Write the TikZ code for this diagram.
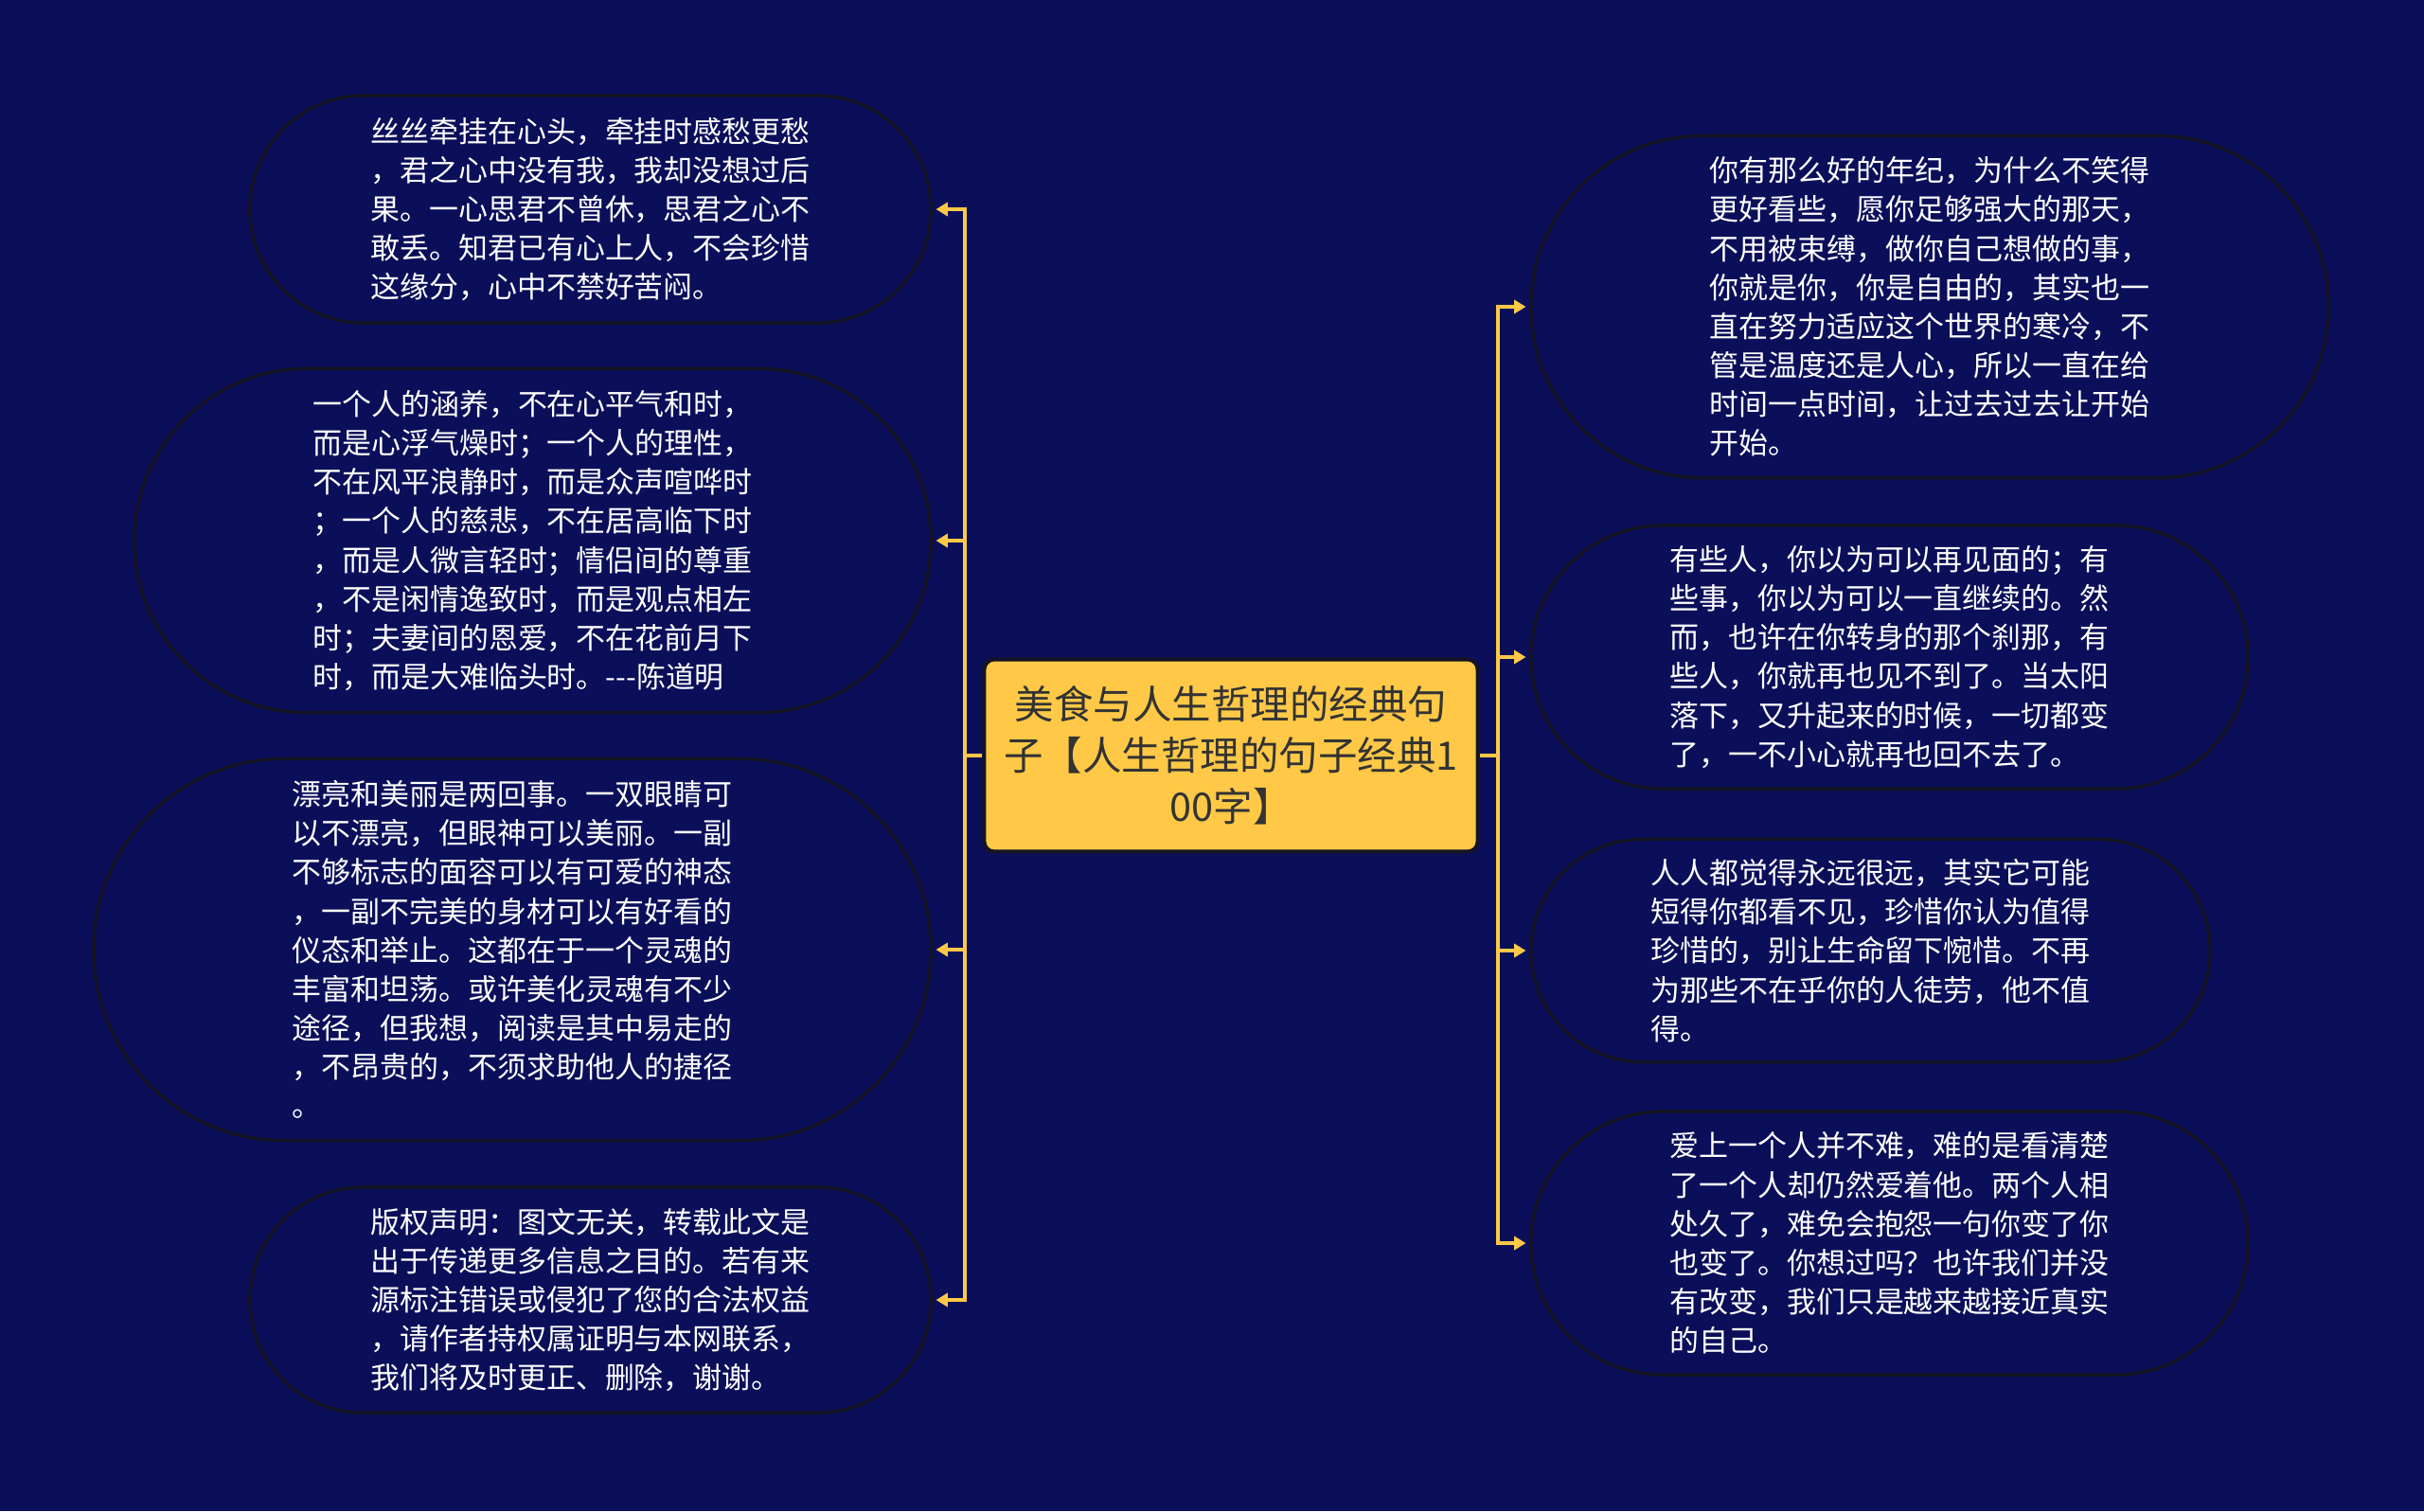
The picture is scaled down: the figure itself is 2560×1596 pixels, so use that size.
\documentclass[tikz,border=0pt]{standalone}
\usepackage{fontspec}
\setmainfont{Noto Sans CJK SC}
\usetikzlibrary{shapes.misc,arrows.meta}
\definecolor{navy}{RGB}{11,15,90}
\definecolor{gold}{RGB}{255,201,71}
\definecolor{rim}{RGB}{20,20,36}
\definecolor{ink}{RGB}{51,51,51}

\begin{document}
\begin{tikzpicture}[x=0.01cm, y=-0.01cm,
    leaf/.style={rounded rectangle, draw=rim, line width=1pt, fill=navy,
                 text=white, align=left, inner sep=0pt,
                 font=\fontsize{8.8}{11.7}\selectfont},
    topic/.style={rectangle, rounded corners=3pt, draw=rim, line width=1.2pt,
                  fill=gold, text=ink, align=center, text width=4.9cm,
                  minimum width=5.21cm, minimum height=2.03cm,
                  font=\fontsize{11.8}{15.4}\selectfont},
    link/.style={gold, line width=0.9pt, -{Triangle[length=3.5pt,width=4pt]},
                 shorten >=1pt}
]
\useasboundingbox (0,0) rectangle (2560,1596);
\fill[navy] (0,0) rectangle (2560,1596);

% centre
\node[topic] (root) at (1300,798) {美食与人生哲理的经典句\\子【人生哲理的句子经典1\\00字】};

% left side
\node[leaf, minimum width=7.19cm, minimum height=2.40cm, anchor=east] (l1) at (985,221)
  {丝丝牵挂在心头，牵挂时感愁更愁\\，君之心中没有我，我却没想过后\\果。一心思君不曾休，思君之心不\\敢丢。知君已有心上人，不会珍惜\\这缘分，心中不禁好苦闷。};
\node[leaf, minimum width=8.41cm, minimum height=3.63cm, anchor=east] (l2) at (985,571)
  {一个人的涵养，不在心平气和时，\\而是心浮气燥时；一个人的理性，\\不在风平浪静时，而是众声喧哗时\\；一个人的慈悲，不在居高临下时\\，而是人微言轻时；情侣间的尊重\\，不是闲情逸致时，而是观点相左\\时；夫妻间的恩爱，不在花前月下\\时，而是大难临头时。-{}-{}-陈道明};
\node[leaf, minimum width=8.84cm, minimum height=4.03cm, anchor=east] (l3) at (985,1003)
  {漂亮和美丽是两回事。一双眼睛可\\以不漂亮，但眼神可以美丽。一副\\不够标志的面容可以有可爱的神态\\，一副不完美的身材可以有好看的\\仪态和举止。这都在于一个灵魂的\\丰富和坦荡。或许美化灵魂有不少\\途径，但我想，阅读是其中易走的\\，不昂贵的，不须求助他人的捷径\\。};
\node[leaf, minimum width=7.19cm, minimum height=2.38cm, anchor=east] (l4) at (985,1373)
  {版权声明：图文无关，转载此文是\\出于传递更多信息之目的。若有来\\源标注错误或侵犯了您的合法权益\\，请作者持权属证明与本网联系，\\我们将及时更正、删除，谢谢。};

% right side
\node[leaf, minimum width=8.42cm, minimum height=3.61cm, anchor=west] (r1) at (1615,324)
  {你有那么好的年纪，为什么不笑得\\更好看些，愿你足够强大的那天，\\不用被束缚，做你自己想做的事，\\你就是你，你是自由的，其实也一\\直在努力适应这个世界的寒冷，不\\管是温度还是人心，所以一直在给\\时间一点时间，让过去过去让开始\\开始。};
\node[leaf, minimum width=7.57cm, minimum height=2.78cm, anchor=west] (r2) at (1615,694)
  {有些人，你以为可以再见面的；有\\些事，你以为可以一直继续的。然\\而，也许在你转身的那个刹那，有\\些人，你就再也见不到了。当太阳\\落下，又升起来的时候，一切都变\\了，一不小心就再也回不去了。};
\node[leaf, minimum width=7.17cm, minimum height=2.35cm, anchor=west] (r3) at (1615,1004)
  {人人都觉得永远很远，其实它可能\\短得你都看不见，珍惜你认为值得\\珍惜的，别让生命留下惋惜。不再\\为那些不在乎你的人徒劳，他不值\\得。};
\node[leaf, minimum width=7.57cm, minimum height=2.78cm, anchor=west] (r4) at (1615,1313)
  {爱上一个人并不难，难的是看清楚\\了一个人却仍然爱着他。两个人相\\处久了，难免会抱怨一句你变了你\\也变了。你想过吗？也许我们并没\\有改变，我们只是越来越接近真实\\的自己。};

% connectors
\coordinate (lj) at (1019,798);
\coordinate (rj) at (1582,798);
\foreach \n in {l1,l2,l3,l4}
  \draw[link] (root.west) -- (lj) |- (\n.east);
\foreach \n in {r1,r2,r3,r4}
  \draw[link] (root.east) -- (rj) |- (\n.west);
\end{tikzpicture}
\end{document}
